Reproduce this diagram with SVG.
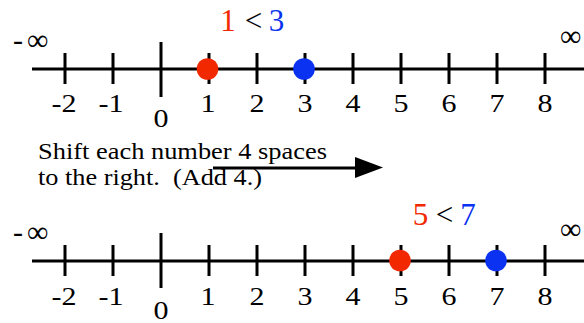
<svg xmlns="http://www.w3.org/2000/svg" width="584" height="323" viewBox="0 0 584 323">
<defs>
<style>
.ln{stroke:#000;stroke-width:3;fill:none}
.t{font-family:"Liberation Serif","Times New Roman",serif;fill:#000}
.n{font-size:25.5px;text-anchor:middle}
.c{font-size:31px;text-anchor:middle}
.inf{font-size:30px}
.red{fill:#f22800}
.blue{fill:#0a32f0}
.s{font-size:23px;white-space:pre}
</style>
</defs>
<rect width="584" height="323" fill="#fff"/>

<g id="top-line">
<path class="ln" d="M32 69H584M65 53V84M113 53V84M209 53V84M257 53V84M305 53V84M353 53V84M401 53V84M449 53V84M497 53V84M545 53V84M161 42V97"/>
<g class="t n">
<text x="64" y="112" textLength="25" lengthAdjust="spacingAndGlyphs">-2</text>
<text x="111" y="112" textLength="25" lengthAdjust="spacingAndGlyphs">-1</text>
<text x="161" y="126.5" textLength="15" lengthAdjust="spacingAndGlyphs">0</text>
<text x="208" y="112" textLength="15" lengthAdjust="spacingAndGlyphs">1</text>
<text x="257" y="112" textLength="15" lengthAdjust="spacingAndGlyphs">2</text>
<text x="305" y="112" textLength="15" lengthAdjust="spacingAndGlyphs">3</text>
<text x="353" y="112" textLength="15" lengthAdjust="spacingAndGlyphs">4</text>
<text x="401" y="112" textLength="15" lengthAdjust="spacingAndGlyphs">5</text>
<text x="449" y="112" textLength="15" lengthAdjust="spacingAndGlyphs">6</text>
<text x="497" y="112" textLength="15" lengthAdjust="spacingAndGlyphs">7</text>
<text x="545" y="112" textLength="15" lengthAdjust="spacingAndGlyphs">8</text>
</g>
<text class="t inf" x="13" y="50">-<tspan x="27">∞</tspan></text>
<text class="t inf" x="560" y="46">∞</text>
<circle class="red" cx="207.5" cy="69" r="10.8"/>
<circle class="blue" cx="304" cy="69" r="10.8"/>
<g class="t c">
<text class="red" x="228" y="30.5">1</text>
<text x="253.5" y="30.5">&lt;</text>
<text class="blue" x="276.5" y="30.5">3</text>
</g>
</g>

<g id="note">
<text class="t s" x="38" y="159" textLength="289" lengthAdjust="spacingAndGlyphs">Shift each number 4 spaces</text>
<text class="t s" x="38" y="185" textLength="224" lengthAdjust="spacingAndGlyphs">to the right.  (Add 4.)</text>
</g>

<g id="connectors">
<path class="ln" d="M213 168H357"/>
<polygon points="355,157 383,167.5 355,178" fill="#000"/>
</g>

<g id="bottom-line">
<path class="ln" d="M32 261H584M65 245V276M113 245V276M209 245V276M257 245V276M305 245V276M353 245V276M401 245V276M449 245V276M497 245V276M545 245V276M161 233V288"/>
<g class="t n">
<text x="64" y="305" textLength="25" lengthAdjust="spacingAndGlyphs">-2</text>
<text x="111" y="305" textLength="25" lengthAdjust="spacingAndGlyphs">-1</text>
<text x="161" y="318.5" textLength="15" lengthAdjust="spacingAndGlyphs">0</text>
<text x="208" y="305" textLength="15" lengthAdjust="spacingAndGlyphs">1</text>
<text x="257" y="305" textLength="15" lengthAdjust="spacingAndGlyphs">2</text>
<text x="305" y="305" textLength="15" lengthAdjust="spacingAndGlyphs">3</text>
<text x="353" y="305" textLength="15" lengthAdjust="spacingAndGlyphs">4</text>
<text x="401" y="305" textLength="15" lengthAdjust="spacingAndGlyphs">5</text>
<text x="449" y="305" textLength="15" lengthAdjust="spacingAndGlyphs">6</text>
<text x="497" y="305" textLength="15" lengthAdjust="spacingAndGlyphs">7</text>
<text x="545" y="305" textLength="15" lengthAdjust="spacingAndGlyphs">8</text>
</g>
<text class="t inf" x="13" y="242">-<tspan x="27">∞</tspan></text>
<text class="t inf" x="560" y="239">∞</text>
<circle class="red" cx="400" cy="260.5" r="10.8"/>
<circle class="blue" cx="496" cy="260.5" r="10.8"/>
<g class="t c">
<text class="red" x="420.5" y="225">5</text>
<text x="444.5" y="225">&lt;</text>
<text class="blue" x="468" y="225">7</text>
</g>
</g>
</svg>
